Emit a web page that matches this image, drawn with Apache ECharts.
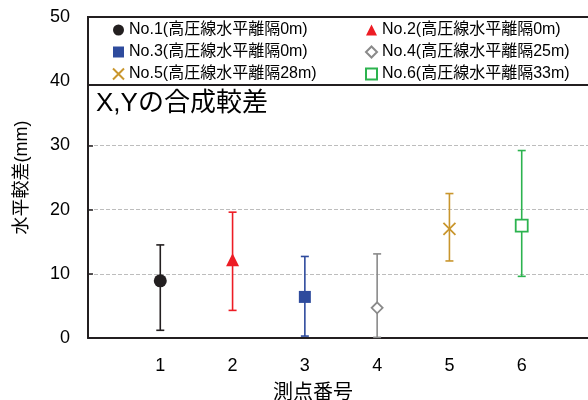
<!DOCTYPE html>
<html>
<head>
<meta charset="utf-8">
<script src="https://cdn.jsdelivr.net/npm/echarts@6/dist/echarts.min.js"></script>
<style>
  html, body { margin: 0; padding: 0; background: #fff; }
  #chart { width: 588px; height: 400px; }
</style>
</head>
<body>
<div id="chart"></div>
<script>
// 測点ごとの値 (mm)
var points = [1, 2, 3, 4, 5, 6];
var means = [8.9, 12.2, 6.4, 4.7, 17.0, 17.5];
var uppers = [14.5, 19.6, 12.7, 13.1, 22.5, 29.2];
var lowers = [1.2, 4.3, 0.3, 0.1, 12.0, 9.6];
var names = [
  "No.1(高圧線水平離隔0m)",
  "No.2(高圧線水平離隔0m)",
  "No.3(高圧線水平離隔0m)",
  "No.4(高圧線水平離隔25m)",
  "No.5(高圧線水平離隔28m)",
  "No.6(高圧線水平離隔33m)"
];
var colors = ["#231f20", "#ed1c24", "#2e4b9d", "#8a8a8a", "#c9962d", "#2cb34f"];
var symbols = ["circle", "triangle", "rect", "diamond", "path://M0,0L10,10M10,0L0,10", "rect"];
var symbolSizes = [13, 13, 12, 11, 12, 12];
var hollow = [false, false, false, true, true, true];
var yTicks = [0, 10, 20, 30, 40, 50];

var font = "'Liberation Sans', Arial, 'Noto Sans CJK JP', sans-serif";

var myChart = echarts.init(document.getElementById("chart"));

var series = [];
// 誤差棒
points.forEach(function (p, i) {
  series.push({
    name: "err" + (i + 1),
    type: "custom",
    z: 2,
    silent: true,
    data: [[p, lowers[i], uppers[i]]],
    encode: { x: 0, y: [1, 2] },
    renderItem: function (params, api) {
      var lo = api.coord([api.value(0), api.value(1)]);
      var hi = api.coord([api.value(0), api.value(2)]);
      var w = 4;
      var st = { stroke: colors[i], lineWidth: 1.6 };
      return {
        type: "group",
        children: [
          { type: "line", shape: { x1: lo[0], y1: lo[1], x2: hi[0], y2: hi[1] }, style: st },
          { type: "line", shape: { x1: lo[0] - w, y1: lo[1], x2: lo[0] + w, y2: lo[1] }, style: st },
          { type: "line", shape: { x1: hi[0] - w, y1: hi[1], x2: hi[0] + w, y2: hi[1] }, style: st }
        ]
      };
    }
  });
});
// 平均値マーカー
points.forEach(function (p, i) {
  series.push({
    name: names[i],
    type: "scatter",
    z: 3,
    symbol: symbols[i],
    symbolSize: symbolSizes[i],
    itemStyle: hollow[i]
      ? { color: i === 4 ? "rgba(0,0,0,0)" : "#fff", borderColor: colors[i], borderWidth: 1.8, opacity: 1 }
      : { color: colors[i], opacity: 1 },
    data: [[p, means[i]]]
  });
});

var legendText = { fontFamily: font, fontSize: 16, color: "#000", lineHeight: 20 };

var option = {
  animation: false,
  backgroundColor: "#fff",
  grid: { left: 88, right: -6, top: 17, bottom: 62, outerBoundsMode: "none", containLabel: false },
  xAxis: {
    type: "value",
    min: 0,
    max: 7,
    interval: 1,
    name: "測点番号",
    nameLocation: "middle",
    nameGap: 45,
    nameTextStyle: { fontFamily: font, fontSize: 20, color: "#000", padding: [0, 56, 0, 0] },
    axisLine: { lineStyle: { color: "#231f20", width: 2 } },
    axisTick: { show: false },
    splitLine: { show: false },
    axisLabel: {
      margin: 19,
      fontFamily: font,
      fontSize: 18,
      color: "#000",
      formatter: function (v) { return points.indexOf(v) >= 0 ? String(v) : ""; }
    }
  },
  yAxis: {
    type: "value",
    min: yTicks[0],
    max: yTicks[yTicks.length - 1],
    interval: 10,
    name: "水平較差(mm)",
    nameLocation: "middle",
    nameGap: 57,
    nameTextStyle: { fontFamily: font, fontSize: 18, color: "#000" },
    axisLine: { show: true, lineStyle: { color: "#231f20", width: 2 } },
    axisTick: { show: true, inside: true, length: 5, lineStyle: { color: "#231f20", width: 1.5 } },
    splitLine: { show: true, lineStyle: { color: "#bdbdbd", type: "dashed", width: 1 } },
    axisLabel: { margin: 18, fontFamily: font, fontSize: 18, color: "#000" }
  },
  graphic: [
    {
      type: "rect",
      z: 5,
      shape: { x: 88, y: 17, width: 520, height: 68 },
      style: { fill: "#fff", stroke: "#231f20", lineWidth: 2 }
    },
    {
      type: "text",
      z: 6,
      left: 96,
      top: 91,
      style: { text: "X,Yの合成較差", fontFamily: font, fontSize: 26, fill: "#000" }
    }
  ],
  legend: [
    {
      z: 10,
      orient: "vertical",
      left: 112,
      top: 20,
      padding: 0,
      itemGap: 2,
      itemWidth: 11,
      itemHeight: 11,
      selectedMode: false,
      data: [names[0], names[2], names[4]],
      textStyle: legendText
    },
    {
      z: 10,
      orient: "vertical",
      left: 365,
      top: 20,
      padding: 0,
      itemGap: 2,
      itemWidth: 11,
      itemHeight: 11,
      selectedMode: false,
      data: [names[1], names[3], names[5]],
      textStyle: legendText
    }
  ],
  series: series
};

myChart.setOption(option);
</script>
</body>
</html>
